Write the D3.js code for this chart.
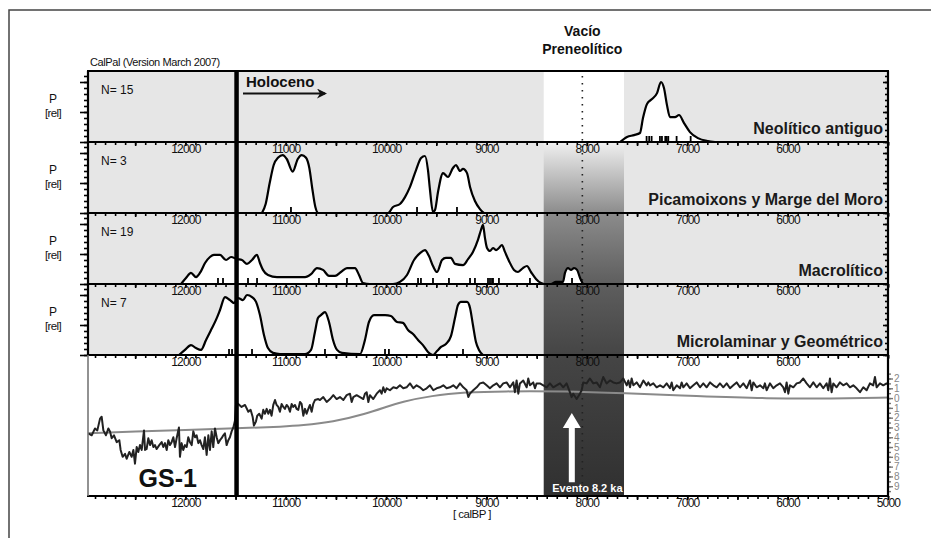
<!DOCTYPE html>
<meta charset="utf-8">
<script src="https://d3js.org/d3.v7.min.js"></script>
<style>
  body { margin: 0; background: #fff; }
  text { font-family: "Liberation Sans", Arial, sans-serif; }
</style>
<div id="chart"></div>
<script>
// ---- data ----
var xLabelsPanel = [12000, 11000, 10000, 9000, 8000, 7000, 6000];
var xLabelsBottom = [12000, 11000, 10000, 9000, 8000, 7000, 6000, 5000];
var panelNames = ["Neolítico antiguo", "Picamoixons y Marge del Moro", "Macrolítico", "Microlaminar y Geométrico"];
var panelN = [15, 3, 19, 7];

// summed probability curves [calBP, P rel]
var neoCurve = [[7670,0],[7600,0.17],[7530,0.23],[7471,0.3],[7441,0.8],[7401,1.27],[7351,1.43],[7301,1.63],[7262,2.0],[7232,1.8],[7202,1.23],[7172,0.83],[7122,0.83],[7082,0.9],[7032,0.63],[6973,0.33],[6894,0.13],[6794,0.03],[6724,0]];
var neoDates = [7405, 7379, 7355, 7272, 7252, 7219, 7205, 7189, 7106, 6966];

var picaCurve = [[11237,0],[11200,0.3],[11160,1.0],[11120,1.6],[11075,1.85],[11030,1.93],[10990,1.8],[10931,1.38],[10880,1.8],[10841,1.93],[10800,1.85],[10765,1.5],[10735,0.8],[10705,0.2],[10675,0],[9981,0],[9931,0.2],[9862,0.3],[9812,0.53],[9762,0.87],[9702,1.43],[9652,1.83],[9613,1.9],[9583,1.43],[9563,0.77],[9533,0.03],[9513,0.1],[9483,0.7],[9433,1.33],[9384,1.2],[9334,1.5],[9304,1.6],[9264,1.4],[9234,1.47],[9194,1.33],[9164,0.87],[9115,0.4],[9065,0.13],[9025,0]];
var picaDates = [10948, 9692, 9294];

var macroCurve = [[12043,0],[11994,0.2],[11944,0.37],[11894,0.23],[11844,0.43],[11804,0.7],[11755,0.9],[11715,0.97],[11655,0.97],[11595,0.8],[11545,0.9],[11486,0.83],[11436,0.8],[11386,0.67],[11336,0.8],[11287,0.97],[11257,0.7],[11227,0.47],[11177,0.3],[11087,0.23],[10958,0.23],[10808,0.23],[10748,0.33],[10689,0.53],[10629,0.47],[10569,0.27],[10509,0.27],[10450,0.4],[10390,0.53],[10310,0.53],[10270,0.3],[10230,0.03],[10161,0],[9932,0],[9862,0.07],[9792,0.3],[9722,0.8],[9662,1.03],[9613,1.13],[9573,0.93],[9533,0.6],[9493,0.4],[9443,0.8],[9404,0.87],[9354,0.87],[9314,0.67],[9234,0.63],[9184,0.83],[9135,1.07],[9085,1.47],[9055,1.8],[9035,1.97],[9015,1.53],[8995,1.2],[8965,1.1],[8935,1.2],[8905,1.13],[8876,1.2],[8846,1.3],[8816,1.07],[8776,0.77],[8726,0.47],[8686,0.4],[8637,0.53],[8597,0.6],[8557,0.4],[8507,0.17],[8457,0.03],[8427,0],[8358,0],[8308,0.07],[8268,0.07],[8238,0.07],[8218,0.37],[8188,0.53],[8158,0.47],[8128,0.53],[8098,0.47],[8068,0.2],[8039,0]];
var macroDates = [11675, 11625, 11376, 11286, 10669, 10390, 9682, 9653, 9533, 9374, 9164, 9115, 8985, 8965, 8945, 8935, 8876, 8567, 8148];

var microCurve = [[12063,0],[12004,0.17],[11944,0.33],[11894,0.23],[11844,0.17],[11794,0.5],[11745,0.83],[11695,1.17],[11655,1.5],[11605,1.93],[11555,1.83],[11515,1.73],[11476,1.9],[11426,1.83],[11386,2.0],[11336,1.93],[11296,1.77],[11257,1.33],[11217,0.67],[11177,0.23],[11127,0.07],[11057,0.03],[10808,0.03],[10748,0.17],[10709,0.77],[10679,1.23],[10649,1.33],[10609,1.43],[10569,1.1],[10529,0.5],[10489,0.17],[10440,0.07],[10260,0.03],[10211,0.5],[10171,1.1],[10121,1.33],[10011,1.33],[9952,1.3],[9892,1.1],[9832,1.07],[9782,0.83],[9732,0.7],[9682,0.5],[9633,0.33],[9583,0.1],[9533,0],[9493,0.13],[9453,0.27],[9404,0.37],[9354,0.63],[9314,1.23],[9284,1.67],[9254,1.77],[9194,1.77],[9164,1.57],[9135,1.0],[9105,0.43],[9075,0.17],[9035,0]];
var microDates = [11565, 11535, 11336, 10609, 10011, 9972, 9234];

// GISP2 record [calBP, anomaly]
var gispRaw = [[12967,-3.6],[12933,-3.8],[12900,-3.1],[12877,-3.3],[12850,-2.1],[12834,-1.9],[12817,-3.3],[12791,-3.8],[12767,-3.1],[12751,-3.4],[12734,-4.1],[12711,-3.8],[12684,-4.5],[12658,-4.3],[12645,-5.3],[12625,-6.0],[12601,-5.7],[12585,-6.2],[12558,-5.5],[12535,-6.0],[12518,-5.3],[12502,-6.7],[12485,-5.0],[12469,-5.5],[12452,-4.8],[12435,-5.3],[12412,-3.3],[12402,-5.3],[12386,-5.2],[12369,-4.1],[12352,-4.8],[12336,-4.3],[12319,-5.0],[12303,-4.8],[12286,-5.2],[12260,-4.8],[12236,-4.5],[12220,-5.0],[12203,-4.6],[12186,-5.3],[12170,-4.3],[12153,-4.8],[12137,-4.5],[12120,-4.0],[12103,-5.0],[12087,-4.1],[12064,-3.0],[12054,-6.0],[12037,-4.6],[12021,-5.3],[12004,-4.8],[11987,-5.0],[11971,-4.0],[11954,-4.5],[11937,-4.8],[11921,-3.4],[11904,-4.0],[11888,-3.8],[11871,-4.6],[11854,-4.3],[11838,-4.8],[11821,-5.2],[11805,-4.0],[11788,-5.8],[11771,-3.8],[11755,-5.3],[11738,-3.4],[11722,-5.0],[11705,-3.1],[11688,-4.0],[11672,-4.6],[11655,-4.3],[11639,-4.1],[11622,-3.8],[11606,-3.6],[11589,-4.8],[11572,-4.3],[11556,-4.0],[11539,-3.4],[11522,-3.0],[11506,-2.3],[11496,-0.7],[11473,-0.6],[11440,-0.9],[11406,-0.7],[11373,-1.4],[11350,-1.2],[11330,-1.9],[11317,-2.8],[11297,-2.4],[11284,-1.8],[11264,-1.6],[11240,-2.1],[11224,-1.2],[11207,-1.6],[11190,-1.1],[11174,-1.6],[11157,-1.2],[11141,-1.8],[11124,-0.7],[11107,-0.2],[11091,-0.7],[11074,-0.9],[11058,-1.4],[11041,-0.6],[11024,-0.9],[11008,-1.1],[10991,-0.7],[10975,-0.9],[10958,-1.4],[10941,-0.6],[10925,-0.9],[10908,-0.7],[10892,-1.1],[10875,-1.2],[10858,-0.4],[10842,-0.6],[10825,-1.8],[10808,-1.1],[10792,-1.6],[10775,-1.1],[10759,-0.7],[10742,-1.4],[10726,-0.6],[10709,-0.2],[10676,-0.1],[10659,-0.2],
  [10626,0.1],[10592,-0.4],[10559,-0.1],[10526,0.3],[10493,-0.1],[10460,0.1],[10426,-0.2],[10393,0.3],[10360,0.45],[10343,-0.4],[10327,0.1],[10294,0.3],[10260,0.1],[10227,-0.1],[10211,0.45],[10194,0.6],[10177,-0.4],[10161,0.3],[10128,-0.1],[10094,0.45],[10061,0.8],[10045,0.45],[10028,1.1],[10011,0.6],[9995,1.0],[9962,0.8],[9928,1.1],[9895,1.0],[9862,1.3],[9829,1.0],[9796,1.1],[9762,1.5],[9729,1.0],[9696,1.3],[9663,1.1],[9630,0.8],[9596,1.0],[9563,1.3],[9530,0.8],[9497,1.0],[9464,1.1],[9430,1.3],[9397,1.0],[9364,1.1],[9331,1.3],[9298,1.0],[9264,1.5],[9231,1.1],[9198,0.8],[9181,0.1],[9165,0.45],[9132,0.8],[9098,1.1],[9065,1.5],[9032,1.6],[8999,1.3],[8966,1.0],[8932,1.3],[8899,1.5],[8866,1.1],[8833,1.5],[8800,1.6],[8766,1.1],[8733,1.6],[8717,0.6],[8700,1.8],[8683,0.45],[8667,1.5],[8634,1.8],[8600,1.1],[8584,2.0],[8567,1.3],[8534,1.6],[8517,1.0],[8501,1.5],[8468,1.5],[8434,1.3],[8401,1.1],[8368,1.5],[8335,1.1],[8302,1.3],[8268,1.5],[8235,1.1],[8202,1.5],[8169,0.6],[8152,0.1],[8136,0.45],[8102,-0.1],[8069,0.45],[8052,0.8],[8036,1.6],[8003,1.5],[7970,2.0],[7936,1.5],[7903,1.6],[7870,1.1],[7837,2.15],[7804,1.5],[7770,1.8],[7737,1.6],[7704,1.5],
  [7670,1.6],[7637,2.0],[7603,1.3],[7587,1.8],[7570,1.1],[7554,2.0],[7537,1.3],[7504,1.6],[7471,1.1],[7437,1.8],[7404,1.3],[7388,1.6],[7371,1.3],[7338,1.5],[7305,1.1],[7271,1.3],[7238,1.1],[7205,1.5],[7172,1.0],[7155,1.6],[7139,0.8],[7105,1.3],[7072,1.0],[7056,1.6],[7039,1.1],[7006,1.5],[6973,1.0],[6939,1.3],[6906,1.6],[6873,1.1],[6840,1.5],[6807,1.1],[6773,1.6],[6740,1.3],[6707,1.1],[6674,1.5],[6641,1.1],[6607,1.5],[6574,1.0],[6541,1.3],[6508,1.6],[6475,1.1],[6441,1.5],[6408,1.0],[6375,1.8],[6358,0.8],[6342,1.6],[6309,1.1],[6275,1.3],[6242,1.0],[6226,1.5],[6209,0.8],[6176,1.5],[6143,1.0],[6109,1.3],[6076,1.5],[6043,1.1],[6026,0.6],[6010,1.6],[5993,0.45],[5977,1.3],[5943,1.1],[5910,1.5],[5877,1.6],[5844,2.0],[5811,1.5],[5777,1.1],[5744,1.6],[5711,1.1],[5678,1.5],[5645,1.0],[5611,1.5],[5595,0.8],[5578,2.0],[5562,0.6],[5545,1.5],[5512,1.1],[5479,1.6],[5446,1.3],[5412,1.5],[5379,1.1],[5346,1.3],[5313,1.0],[5279,0.6],[5246,1.1],[5213,0.8],[5180,1.5],[5147,1.3],[5130,2.15],[5113,1.1],[5080,1.5],[5047,1.3],[5014,1.5],[5000,1.4]];
var gispSmooth = [[12970,-3.6],[12500,-3.4],[12000,-3.25],[11500,-3.1],[11000,-2.9],[10850,-2.8],[10530,-2.45],[10200,-1.6],[10000,-0.9],[9850,-0.4],[9550,0.25],[9200,0.6],[8850,0.7],[8200,0.7],[7650,0.5],[6900,0.2],[6200,-0.05],[5550,-0.05],[5000,0.05]];
var gispTicks = [2, 1, 0, -1, -2, -3, -4, -5, -6, -7, -8, -9];

// events
var holoceneStart = 11490;
var vacioFrom = 8430, vacioTo = 7630;
var dottedYear = 8045;
var event82 = 8150;

// ---- layout ----
var width = 931, height = 538;
var panelTops = [71, 142, 213, 284];
var panelH = 71;
var bottomTop = 355, bottomBase = 496;

var svg = d3.select("#chart").append("svg")
    .attr("width", width).attr("height", height);

var x = d3.scaleLinear().domain([12970, 5000]).range([88, 888]);
var yG = d3.scaleLinear().domain([-10, 4.4]).range([bottomBase, bottomTop]);

var defs = svg.append("defs");
var grad = defs.append("linearGradient").attr("id", "vacio")
    .attr("gradientUnits", "userSpaceOnUse")
    .attr("x1", 0).attr("y1", 142).attr("x2", 0).attr("y2", bottomBase);
[[0, "#f0f0f0"], [0.2, "#8c8c8c"], [0.4, "#5e5e5e"], [0.6, "#454545"], [1, "#303030"]].forEach(function(s) {
    grad.append("stop").attr("offset", s[0]).attr("stop-color", s[1]);
});

// outer frame (top + left)
svg.append("path").attr("d", "M9,538 L9,10 L931,10")
    .attr("fill", "none").attr("stroke", "#444").attr("stroke-width", 1.5);

// panel backgrounds
panelTops.forEach(function(t) {
    svg.append("rect").attr("x", 88).attr("y", t).attr("width", 800).attr("height", panelH)
        .attr("fill", "#e6e6e6");
});
svg.append("rect").attr("x", 88).attr("y", bottomTop).attr("width", 800).attr("height", bottomBase - bottomTop)
    .attr("fill", "#fff");

// vacío preneolítico band
svg.append("rect").attr("x", x(vacioFrom)).attr("y", panelTops[0])
    .attr("width", x(vacioTo) - x(vacioFrom)).attr("height", panelH).attr("fill", "#fff");
svg.append("rect").attr("x", x(vacioFrom)).attr("y", panelTops[1])
    .attr("width", x(vacioTo) - x(vacioFrom)).attr("height", bottomBase - panelTops[1])
    .attr("fill", "url(#vacio)");

// dotted line
svg.append("line").attr("x1", x(dottedYear)).attr("x2", x(dottedYear))
    .attr("y1", 76).attr("y2", bottomBase - 4)
    .attr("stroke", "#222").attr("stroke-width", 1.6).attr("stroke-dasharray", "1.5,5.5");

// probability panels
var curves = [neoCurve, picaCurve, macroCurve, microCurve];
var dates = [neoDates, picaDates, macroDates, microDates];

curves.forEach(function(c, i) {
    var top = panelTops[i], base = top + panelH;
    var y = d3.scaleLinear().domain([0, panelH / 30]).range([base, top]);
    var g = svg.append("g");
    g.append("path").datum(c)
        .attr("fill", "#fff")
        .attr("d", d3.area().curve(d3.curveMonotoneX)
            .x(function(d) { return x(d[0]); })
            .y0(base).y1(function(d) { return y(d[1]); }));
    g.append("path").datum(c)
        .attr("fill", "none").attr("stroke", "#000").attr("stroke-width", 2.2)
        .attr("stroke-linejoin", "round")
        .attr("d", d3.line().curve(d3.curveMonotoneX)
            .x(function(d) { return x(d[0]); })
            .y(function(d) { return y(d[1]); }));
    g.selectAll(".date").data(dates[i]).enter().append("line")
        .attr("x1", function(d) { return x(d); }).attr("x2", function(d) { return x(d); })
        .attr("y1", base).attr("y2", base - 6)
        .attr("stroke", "#000").attr("stroke-width", 1.8);

    // left ticks (outside) and right ticks (inside)
    var minor = d3.range(0, panelH / 30, 0.2);
    [[d3.axisLeft(y).tickValues(minor).tickSize(4), 88], [d3.axisLeft(y).tickValues([0, 1, 2]).tickSize(8), 88],
     [d3.axisLeft(y).tickValues(minor).tickSize(3), 888], [d3.axisLeft(y).tickValues([0, 1, 2]).tickSize(5), 888]]
        .forEach(function(a) {
            var ax = svg.append("g").attr("transform", "translate(" + a[1] + ",0)")
                .call(a[0].tickFormat(""));
            ax.select(".domain").remove();
            ax.selectAll("line").attr("stroke", "#000").attr("stroke-width", 1.6);
        });

    svg.append("text").attr("x", 101).attr("y", top + 23)
        .attr("font-size", 12).attr("fill", "#111").text("N= " + panelN[i]);
    svg.append("text").attr("x", 53).attr("y", top + 32).attr("text-anchor", "middle")
        .attr("font-size", 12).attr("fill", "#111").text("P");
    svg.append("text").attr("x", 53).attr("y", top + 45.5).attr("text-anchor", "middle")
        .attr("font-size", 11.5).attr("letter-spacing", "-0.6").attr("fill", "#111").text("[rel]");
    svg.append("text").attr("x", 883).attr("y", base - 8).attr("text-anchor", "end")
        .attr("font-size", 16).attr("font-weight", "bold").attr("fill", "#1a1a1a").text(panelNames[i]);
});

// GISP panel
svg.append("path").datum(gispSmooth)
    .attr("fill", "none").attr("stroke", "#8a8a8a").attr("stroke-width", 2)
    .attr("d", d3.line().curve(d3.curveBasis)
        .x(function(d) { return x(d[0]); }).y(function(d) { return yG(d[1]); }));
svg.append("path").datum(gispRaw)
    .attr("fill", "none").attr("stroke", "#222").attr("stroke-width", 2)
    .attr("stroke-linejoin", "round")
    .attr("d", d3.line()
        .x(function(d) { return x(d[0]); }).y(function(d) { return yG(d[1]); }));

// right axis of GISP panel
var gAxMinor = svg.append("g").attr("transform", "translate(888,0)")
    .call(d3.axisRight(yG).tickValues(d3.range(-9.5, 2.6, 0.5)).tickSize(3).tickFormat(""));
var gAx = svg.append("g").attr("transform", "translate(888,0)")
    .call(d3.axisRight(yG).tickValues(gispTicks).tickSize(5).tickPadding(1)
        .tickFormat(function(d) { return Math.abs(d); }));
[gAxMinor, gAx].forEach(function(a) {
    a.select(".domain").remove();
    a.selectAll("line").attr("stroke", "#777").attr("stroke-width", 1.4);
});
gAx.selectAll("text").attr("fill", "#888").attr("font-size", 10)
    .attr("font-family", "Liberation Sans, Arial, sans-serif");

// x axes at each panel boundary
var boundaries = [142, 213, 284, 355, 496];
boundaries.forEach(function(b, i) {
    var minorAx = svg.append("g").attr("transform", "translate(0," + b + ")")
        .call(d3.axisBottom(x).tickValues(d3.range(12900, 4999, -100)).tickSize(3).tickFormat(""));
    var majorAx = svg.append("g").attr("transform", "translate(0," + b + ")")
        .call(d3.axisBottom(x).tickValues(d3.range(12500, 4999, -500)).tickSize(4).tickFormat(""));
    var lab = svg.append("g").attr("transform", "translate(0," + b + ")")
        .call(d3.axisBottom(x).tickValues(i === 4 ? xLabelsBottom : xLabelsPanel).tickSize(0).tickPadding(2)
            .tickFormat(d3.format("d")));
    [minorAx, majorAx, lab].forEach(function(a) {
        a.select(".domain").remove();
        a.selectAll("line").attr("stroke", "#000").attr("stroke-width", 1.6);
    });
    lab.selectAll("text").attr("font-size", 12).attr("letter-spacing", "-0.8")
        .attr("fill", "#111").attr("font-family", "Liberation Sans, Arial, sans-serif");
});

// panel borders
[71, 142, 213, 284, 355, 496].forEach(function(b) {
    svg.append("line").attr("x1", 87).attr("x2", 889).attr("y1", b).attr("y2", b)
        .attr("stroke", "#000").attr("stroke-width", 2.2);
});
svg.append("line").attr("x1", 88).attr("x2", 88).attr("y1", 71).attr("y2", 355)
    .attr("stroke", "#000").attr("stroke-width", 2.2);
svg.append("line").attr("x1", 88).attr("x2", 88).attr("y1", 355).attr("y2", 496)
    .attr("stroke", "#777").attr("stroke-width", 1.6);
svg.append("line").attr("x1", 888).attr("x2", 888).attr("y1", 71).attr("y2", 497)
    .attr("stroke", "#000").attr("stroke-width", 2.2);

// holocene boundary
svg.append("line").attr("x1", x(holoceneStart)).attr("x2", x(holoceneStart))
    .attr("y1", 71).attr("y2", 497).attr("stroke", "#000").attr("stroke-width", 4.5);

// event 8.2 ka arrow
var ax0 = x(event82);
svg.append("path")
    .attr("d", "M" + (ax0 - 3) + "," + yG(-8.6) + "V" + yG(-3.05) + "H" + (ax0 - 9) +
        "L" + ax0 + "," + yG(-1.52) + "L" + (ax0 + 9) + "," + yG(-3.05) + "H" + (ax0 + 3) +
        "V" + yG(-8.6) + "Z")
    .attr("fill", "#fff");
svg.append("text").attr("x", x(7995)).attr("y", 492).attr("text-anchor", "middle")
    .attr("font-size", 11).attr("font-weight", "bold").attr("fill", "#fff").text("Evento 8.2 ka");

// annotations
svg.append("text").attr("x", x(12175)).attr("y", 487).attr("text-anchor", "middle")
    .attr("font-size", 25).attr("font-weight", "bold").attr("fill", "#111").text("GS-1");
svg.append("text").attr("x", 246).attr("y", 87)
    .attr("font-size", 15).attr("font-weight", "bold").attr("fill", "#111").text("Holoceno");
svg.append("defs").append("marker").attr("id", "arr")
    .attr("viewBox", "0 0 10 10").attr("refX", 8).attr("refY", 5)
    .attr("markerWidth", 5).attr("markerHeight", 5).attr("orient", "auto")
    .append("path").attr("d", "M0,0 L10,5 L0,10 L3,5 Z").attr("fill", "#111");
svg.append("line").attr("x1", 243).attr("x2", 325).attr("y1", 93.5).attr("y2", 93.5)
    .attr("stroke", "#111").attr("stroke-width", 2).attr("marker-end", "url(#arr)");

svg.append("text").attr("x", x(8045)).attr("y", 36).attr("text-anchor", "middle")
    .attr("font-size", 14).attr("font-weight", "bold").attr("fill", "#111").text("Vacío");
svg.append("text").attr("x", x(8045)).attr("y", 54).attr("text-anchor", "middle")
    .attr("font-size", 14).attr("font-weight", "bold").attr("fill", "#111").text("Preneolítico");
svg.append("text").attr("x", 90).attr("y", 66)
    .attr("font-size", 11).attr("letter-spacing", "-0.4").attr("fill", "#111").text("CalPal (Version March 2007)");
svg.append("text").attr("x", 472).attr("y", 518).attr("text-anchor", "middle")
    .attr("font-size", 11.5).attr("letter-spacing", "-0.5").attr("fill", "#111").text("[ calBP ]");
</script>
